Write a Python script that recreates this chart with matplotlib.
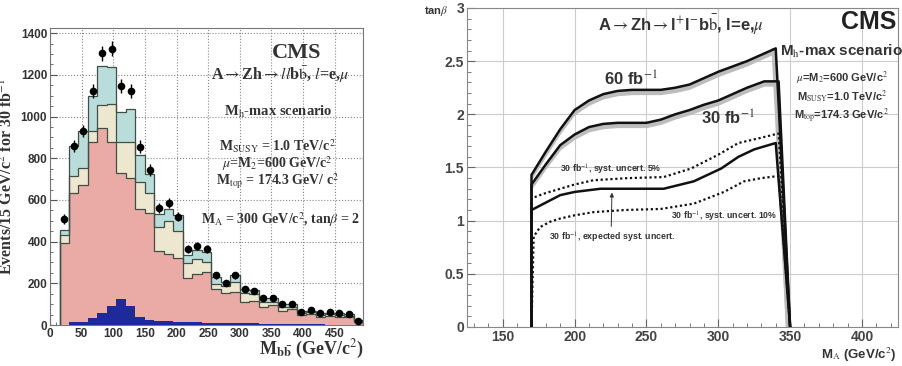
import numpy as np
import matplotlib.pyplot as plt

plt.rcParams['mathtext.fontset'] = 'stix'

# ---- left: M_bb distribution, 15 GeV bins from 15 to 495 ----
edges = np.arange(15, 496, 15)
bkg_pink = [392, 635, 672, 880, 947, 880, 731, 707, 555, 536, 357, 341, 320, 227, 243, 256,
            171, 155, 160, 112, 117, 88, 96, 69, 75, 48, 53, 40, 43, 40, 37, 16]
bkg_tan = [38, 82, 80, 51, 109, 179, 149, 170, 133, 96, 115, 158, 133, 69, 74, 48,
           24, 32, 48, 40, 32, 24, 16, 19, 10, 11, 8, 8, 8, 8, 8, 3]
bkg_cyan = [26, 144, 179, 168, 189, 181, 144, 158, 128, 91, 59, 56, 75, 40, 43, 48,
            34, 21, 32, 21, 19, 16, 19, 11, 14, 8, 8, 8, 8, 8, 8, 5]
signal = [0, 13, 16, 32, 59, 93, 123, 91, 37, 24, 21, 19, 16, 14, 13, 11,
          11, 10, 10, 8, 8, 6, 6, 6, 5, 5, 3, 3, 2, 2, 2, 2]
data = [509, 860, 931, 1125, 1304, 1325, 1147, 1125, 856, 744, 563, 587, 520, 363, 379, 363,
        238, 203, 238, 174, 165, 131, 131, 101, 101, 64, 72, 56, 61, 59, 53, 21]

# ---- right: tan(beta) reach vs M_A ----
ma_60 = [170, 180, 190, 200, 210, 220, 230, 240, 250, 260, 270, 280, 290, 300, 310, 320, 330, 340]
tb_60 = [1.43, 1.65, 1.86, 2.04, 2.13, 2.19, 2.22, 2.23, 2.23, 2.23, 2.25, 2.28, 2.34, 2.40, 2.45, 2.50, 2.56, 2.62]
ma_30 = [170, 180, 190, 200, 210, 220, 230, 240, 250, 260, 270, 280, 290, 300, 310, 320, 332, 342]
tb_30 = [1.34, 1.53, 1.71, 1.81, 1.88, 1.91, 1.92, 1.92, 1.92, 1.95, 2.00, 2.04, 2.09, 2.13, 2.19, 2.25, 2.31, 2.31]
ma_exp = [170, 180, 190, 200, 218, 240, 262, 283, 302, 314, 325, 340]
tb_exp = [1.10, 1.17, 1.24, 1.27, 1.30, 1.30, 1.30, 1.37, 1.49, 1.60, 1.67, 1.73]
ma_5 = [170, 180, 190, 200, 213, 237, 262, 281, 300, 314, 330, 342]
tb_5 = [1.21, 1.26, 1.30, 1.34, 1.38, 1.40, 1.41, 1.49, 1.62, 1.73, 1.78, 1.82]
ma_10 = [170, 171.5, 176, 183, 190, 200, 213, 235, 260, 283, 304, 318, 330, 342]
tb_10 = [0.0, 0.85, 0.94, 0.99, 1.02, 1.05, 1.08, 1.10, 1.11, 1.16, 1.27, 1.37, 1.40, 1.42]
ma_drop = 350

fig = plt.figure(figsize=(9.03, 3.66), dpi=100)

# ===== left panel =====
ax = fig.add_axes([0.0554, 0.112, 0.3467, 0.8115])
pink = np.array(bkg_pink)
tan = pink + np.array(bkg_tan)
total = tan + np.array(bkg_cyan)
ax.stairs(total, edges, fill=True, color='#b9dddb', zorder=2)
ax.stairs(tan, edges, fill=True, color='#ede7cf', zorder=3)
ax.stairs(pink, edges, fill=True, color='#eaaaa6', zorder=4)
for lev in (total, tan, pink):
    ax.stairs(lev, edges, color='#3f4f45', lw=0.9, zorder=5)
ax.stairs(signal, edges, fill=True, color='#1e2a9c', zorder=6)
centers = (edges[1:] + edges[:-1]) / 2
d = np.array(data)
ax.errorbar(centers, d, yerr=np.sqrt(d), fmt='o', color='black', ms=4.5, elinewidth=1, capsize=0, zorder=7)

ax.set_xlim(0, 495)
ax.set_ylim(0, 1425)
ax.set_xticks(np.arange(0, 451, 50))
ax.set_xticks(np.arange(0, 495, 10), minor=True)
ax.set_yticks(np.arange(0, 1401, 200))
ax.set_yticks(np.arange(0, 1425, 50), minor=True)
ax.grid(True, which='major', ls=':', color='#888888', lw=0.8, zorder=1)
ax.set_axisbelow(True)
ax.tick_params(which='both', direction='in', top=False, right=False, color='#555555')
ax.tick_params(which='major', length=5, labelsize=8.5, pad=2)
ax.tick_params(which='minor', length=2.5)
for lab in ax.get_xticklabels() + ax.get_yticklabels():
    lab.set_fontweight('bold')
    lab.set_family('Liberation Sans')
    lab.set_color('#333333')
for s in ax.spines.values():
    s.set_color('#777777')

ax.set_ylabel(r'Events/15 GeV/c$^2$ for 30 fb$^{-1}$', family='Liberation Serif', fontweight='bold',
              fontsize=11.5, color='#333333')
ax.yaxis.set_label_coords(-0.11, 0.5)
fig.text(0.345, 0.045, r'M$_{\mathbf{b\bar{b}}}$ (GeV/c$^2$)', family='Liberation Serif',
         fontweight='bold', fontsize=13, ha='center', va='center', color='#333333')

serif = dict(family='Liberation Serif', fontweight='bold', ha='center', va='center', color='#333333')
ax.text(390, 1304, 'CMS', fontsize=16, **serif)
ax.text(364, 1200, r'A$\rightarrow$Zh$\rightarrow$$\mathit{ll}$b$\bar{\rm b}$, $\mathit{l}$=e,$\mu$', fontsize=11.5, **serif)
ax.text(361, 1024, r'M$_{\rm h}$-max scenario', fontsize=10.5, **serif)
ax.text(359, 856, r'M$_{\rm SUSY}$ = 1.0 TeV/c$^2$', fontsize=10, **serif)
ax.text(359, 776, r'$\mu$=M$_2$=600 GeV/c$^2$', fontsize=10, **serif)
ax.text(359, 688, r'M$_{\rm top}$ = 174.3 GeV/ c$^2$', fontsize=10, **serif)
ax.text(364, 504, r'M$_{\rm A}$ = 300 GeV/c$^2$, tan$\beta$ = 2', fontsize=10, **serif)

# ===== right panel =====
bx = fig.add_axes([0.517, 0.1066, 0.4773, 0.8716])
bx.set_xlim(125, 425)
bx.set_ylim(0, 3)

def contour(xs, ys):
    return [170] + list(xs) + [ma_drop], [0] + list(ys) + [0]

# grey band on the inner side of the measured contours
for xs, ys in ((ma_60, tb_60), (ma_30, tb_30)):
    bx.fill_between(xs, np.array(ys) - 0.045, ys, color='#bdbdbd', lw=0, zorder=2)
    bx.fill([xs[-1] - 3, xs[-1], ma_drop, ma_drop - 3], [ys[-1], ys[-1], 0, 0], color='#bdbdbd', lw=0, zorder=2)

for xs, ys in ((ma_60, tb_60), (ma_30, tb_30), (ma_exp, tb_exp)):
    cx, cy = contour(xs, ys)
    bx.plot(cx, cy, color='#111111', lw=1.8, zorder=4)
for xs, ys in ((ma_5, tb_5), (ma_10, tb_10)):
    cx, cy = contour(xs, ys)
    bx.plot(cx, cy, color='#111111', lw=1.6, ls=(0, (1, 1.2)), zorder=3)

bx.set_xticks(np.arange(150, 401, 50))
bx.set_xticks(np.arange(130, 425, 10), minor=True)
bx.set_yticks(np.arange(0, 3.01, 0.5))
bx.set_yticks(np.arange(0, 3.0, 0.1), minor=True)
bx.set_yticklabels(['0', '0.5', '1', '1.5', '2', '2.5', '3'])
bx.grid(True, which='major', color='#cccccc', lw=0.8, zorder=0)
bx.set_axisbelow(True)
bx.tick_params(which='both', direction='in', color='#666666')
bx.tick_params(which='major', length=6, labelsize=10, pad=2)
bx.tick_params(which='minor', length=3)
for lab in bx.get_xticklabels() + bx.get_yticklabels():
    lab.set_fontweight('bold')
    lab.set_family('Liberation Sans')
    lab.set_color('#444444')
for s in bx.spines.values():
    s.set_color('#888888')

sans = dict(family='Liberation Sans', fontweight='bold', color='#333333')
bx.text(112, 2.97, r'tan$\beta$', fontsize=8, ha='right', va='center', **sans)
bx.text(424, -0.26, r'M$_{\rm A}$ (GeV/c$^2$)', fontsize=9.5, ha='right', va='center', **sans)
bx.text(424, 2.87, 'CMS', fontsize=18, ha='right', va='center', family='Liberation Sans',
        fontweight='bold', color='#222222')
bx.text(274, 2.84, r'A$\rightarrow$Zh$\rightarrow$l$^{+}$l$^{-}$b$\bar{\rm b}$, l=e,$\mu$', fontsize=12,
        ha='center', va='center', **sans)
bx.text(239, 2.33, r'60 fb$^{-1}$', fontsize=12, ha='center', va='center', **sans)
bx.text(307, 1.96, r'30 fb$^{-1}$', fontsize=12, ha='center', va='center', **sans)
bx.text(343, 2.59, r'M$_{\rm h}$-max scenario', fontsize=11, ha='left', va='center', **sans)
bx.text(386, 2.34, r'$\mu$=M$_2$=600 GeV/c$^2$', fontsize=8, ha='center', va='center', **sans)
bx.text(386, 2.17, r'M$_{\rm SUSY}$=1.0 TeV/c$^2$', fontsize=8, ha='center', va='center', **sans)
bx.text(386, 1.98, r'M$_{\rm top}$=174.3 GeV/c$^2$', fontsize=8, ha='center', va='center', **sans)
bx.text(225, 1.48, r'30 fb$^{-1}$, syst. uncert. 5%', fontsize=6.3, ha='center', va='center', **sans)
bx.text(304, 1.035, r'30 fb$^{-1}$, syst. uncert. 10%', fontsize=6.3, ha='center', va='center', **sans)
bx.text(226, 0.84, r'30 fb$^{-1}$, expected syst. uncert.', fontsize=6.3, ha='center', va='center', **sans)
bx.annotate('', xy=(226, 1.29), xytext=(225.5, 0.92),
            arrowprops=dict(arrowstyle='-|>', color='#333333', lw=0.7, mutation_scale=6))

fig.savefig('out.png', dpi=100)
